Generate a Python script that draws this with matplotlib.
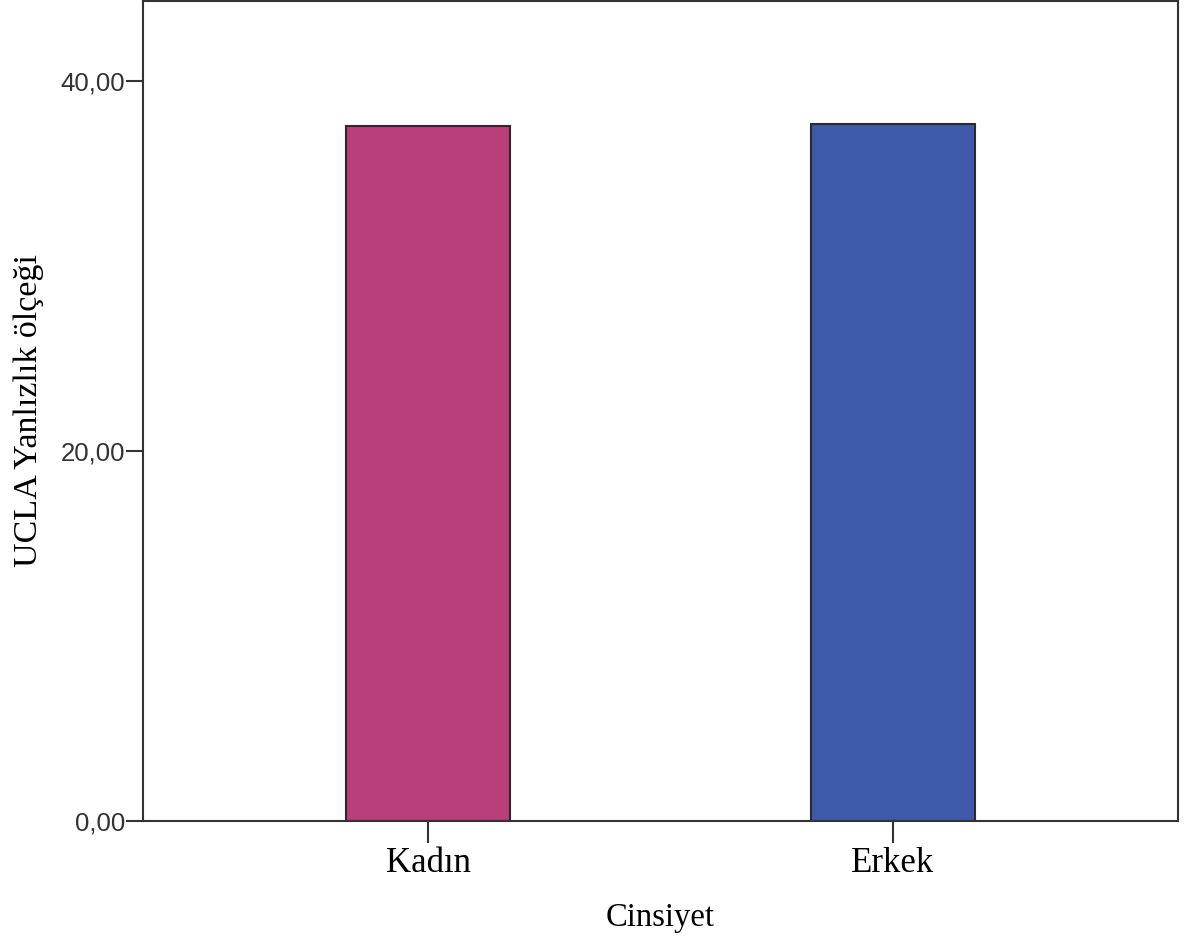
import matplotlib
matplotlib.use("Agg")
import matplotlib.pyplot as plt

categories = ["Kadın", "Erkek"]
values = [37.53, 37.68]
colors = ["#B93E7A", "#3E58AA"]
yticks = [0, 20, 40]
ytick_labels = ["0,00", "20,00", "40,00"]

fig = plt.figure(figsize=(11.98, 9.44), dpi=100)
ax = fig.add_axes([143/1198, 1 - 821/944, (1178-143)/1198, (821-1)/944])

x = list(range(len(categories)))
ax.bar(x, values, width=0.353, color=colors, edgecolor="#2b2b2b", linewidth=1.5)

ax.set_xlim(-0.613, 1.613)
ax.set_ylim(0, 44.3)
ax.set_yticks(yticks)
ax.set_yticklabels(ytick_labels, fontfamily="Liberation Sans", fontsize=18.5, color="#333333")
ax.set_xticks(x)
ax.set_xticklabels(categories, fontfamily="Liberation Serif", fontsize=25, color="black")
ax.tick_params(axis="y", length=12, width=1.5, color="#333333", pad=1)
ax.tick_params(axis="x", length=16, width=1.5, color="#333333", pad=3)
for s in ax.spines.values():
    s.set_linewidth(1.5)
    s.set_color("#333333")

ax.set_xlabel("Cinsiyet", fontfamily="Liberation Serif", fontsize=23.5, labelpad=16)
ax.set_ylabel("UCLA Yanlızlık ölçeği", fontfamily="Liberation Serif", fontsize=24.5, labelpad=12)

fig.savefig("out.png", dpi=100)
